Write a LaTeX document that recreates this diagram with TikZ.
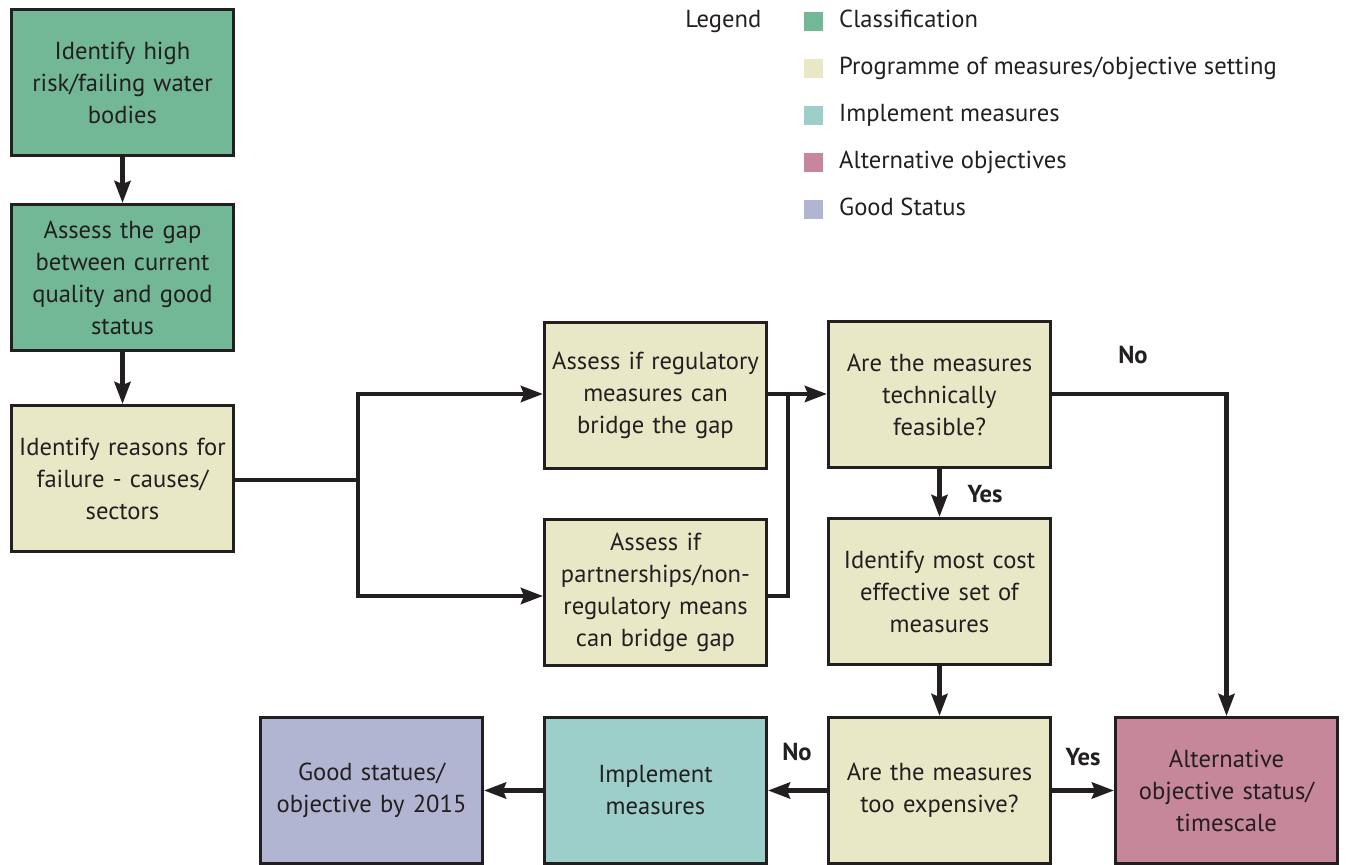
\documentclass[tikz,border=0pt]{standalone}
\usepackage{fontspec}
\setmainfont{PT Sans}
\usepackage{xcolor}
\usepackage{tikz}
\usetikzlibrary{shapes,arrows,positioning,calc,arrows.meta}

\definecolor{inkc}{HTML}{231F20}
\definecolor{classc}{HTML}{72B896}
\definecolor{progc}{HTML}{E8E7C6}
\definecolor{implc}{HTML}{9DCFCA}
\definecolor{altc}{HTML}{C6879B}
\definecolor{goodc}{HTML}{B1B5D2}

\tikzset{
    stage/.style={draw=inkc, line width=1.7pt, minimum width=4.44cm, minimum height=2.92cm,
        text width=4.2cm, align=center, text=inkc, font=\fontsize{14}{18.2}\selectfont},
    flow/.style={draw=inkc, line width=2.6pt, -{Stealth[length=0.44cm,width=0.32cm,inset=0.06cm]}},
    joint/.style={draw=inkc, line width=2.6pt},
    answer/.style={text=inkc, font=\fontsize{14}{17}\selectfont\bfseries},
    legtext/.style={anchor=mid west, text=inkc, font=\fontsize{14}{17}\selectfont},
}

\begin{document}
\begin{tikzpicture}
    \useasboundingbox (0,0) rectangle (26.92,-17.3);

    % classification
    \node[stage, fill=classc] (risk) at (2.45,-1.65) {Identify high\\risk/failing water\\bodies};
    \node[stage, fill=classc] (gap) at (2.45,-5.55) {Assess the gap\\between current\\quality and good\\status};

    % programme of measures
    \node[stage, fill=progc] (reasons) at (2.45,-9.57) {Identify reasons for\\failure - causes/\\sectors};
    \node[stage, fill=progc] (regul) at (13.11,-7.91) {Assess if regulatory\\measures can\\bridge the gap};
    \node[stage, fill=progc] (partner) at (13.11,-11.85) {Assess if\\partnerships/non-\\regulatory means\\can bridge gap};
    \node[stage, fill=progc] (feasible) at (18.79,-7.89) {Are the measures\\technically\\feasible?};
    \node[stage, fill=progc] (costeff) at (18.79,-11.83) {Identify most cost\\effective set of\\measures};
    \node[stage, fill=progc] (expensive) at (18.79,-15.81) {Are the measures\\too expensive?};

    % outcomes
    \node[stage, fill=implc] (implement) at (13.11,-15.81) {Implement\\measures};
    \node[stage, fill=goodc] (good) at (7.43,-15.81) {Good statues/\\objective by 2015};
    \node[stage, fill=altc] (altobj) at (24.53,-15.81) {Alternative\\objective status/\\timescale};

    % connectors
    \coordinate (split) at (7.16,-9.6);
    \coordinate (merge) at (15.76,-7.88);
    \draw[flow] (risk) -- (gap);
    \draw[flow] (gap) -- (reasons);
    \draw[joint] (reasons.east |- split) -- (split);
    \draw[flow] (split) |- (regul.west |- 0,-7.88);
    \draw[flow] (split) |- (partner.west |- 0,-11.92);
    \draw[flow] (regul.east |- merge) -- (feasible.west |- merge);
    \draw[joint] (partner.east |- 0,-11.92) -| (merge);
    \draw[flow] (feasible) -- (costeff);
    \draw[flow] (feasible.east |- merge) -| (altobj.north);
    \draw[flow] (costeff) -- (expensive);
    \draw[flow] (expensive) -- (implement);
    \draw[flow] (expensive) -- (altobj);
    \draw[flow] (implement) -- (good);

    % answers
    \node[answer] (yesfeas) at (19.7,-9.88) {Yes};
    \node[answer] (nofeas) at (22.66,-7.1) {No};
    \node[answer] (noexp) at (15.94,-15.04) {No};
    \node[answer] (yesexp) at (21.66,-15.14) {Yes};

    % legend
    \node[anchor=mid east, text=inkc, font=\fontsize{14}{17}\selectfont] (legend) at (15.35,-0.47) {Legend};
    \foreach \col/\txt [count=\i from 0] in {classc/Classification, progc/{Programme of measures/objective setting},
        implc/Implement measures, altc/Alternative objectives, goodc/Good Status} {
        \node[fill=\col, minimum size=0.38cm, inner sep=0pt] (key\i) at (16.26,-0.44-0.94*\i) {};
        \node[legtext] (lab\i) at (16.66,-0.47-0.94*\i) {\txt};
    }
\end{tikzpicture}
\end{document}
